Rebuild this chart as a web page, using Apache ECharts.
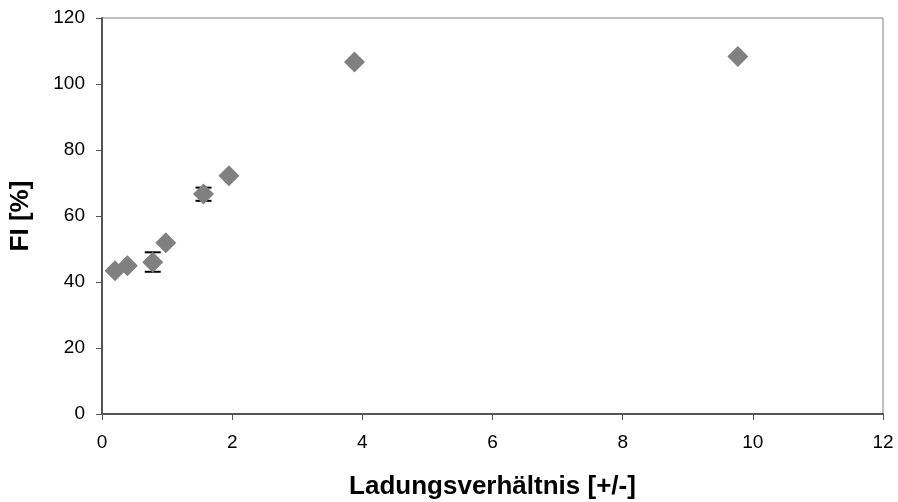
<!DOCTYPE html>
<html>
<head>
<meta charset="utf-8">
<script src="https://cdn.jsdelivr.net/npm/echarts@6/dist/echarts.min.js"></script>
<style>
  html, body { margin: 0; padding: 0; background: #fff; }
  #chart { width: 898px; height: 502px; }
</style>
</head>
<body>
<div id="chart"></div>
<script>
// Ladungsverhältnis vs FI
var ratio = [0.2, 0.39, 0.78, 0.98, 1.56, 1.95, 3.88, 9.77];
var fi = [43.4, 44.9, 46.0, 51.9, 66.7, 72.2, 106.7, 108.3];
// error bars (low, high) where visible
var errX = [0.78, 1.56];
var errLow = [43.1, 64.6];
var errHigh = [49.0, 68.6];

var xTicks = [0, 2, 4, 6, 8, 10, 12];
var yTicks = [0, 20, 40, 60, 80, 100, 120];

var points = ratio.map(function (x, i) { return [x, fi[i]]; });
var errData = errX.map(function (x, i) { return [x, errLow[i], errHigh[i]]; });

var myChart = echarts.init(document.getElementById('chart'));
myChart.setOption({
  animation: false,
  grid: {
    left: 102, right: 15, top: 18, bottom: 88,
    outerBoundsMode: 'none',
    containLabel: false,
    show: true, borderColor: '#808080', borderWidth: 1
  },
  xAxis: {
    type: 'value',
    min: xTicks[0], max: xTicks[xTicks.length - 1], interval: 2,
    name: 'Ladungsverhältnis [+/-]',
    nameLocation: 'middle',
    nameGap: 60,
    nameTextStyle: { fontFamily: 'Liberation Sans', fontWeight: 'bold', fontSize: 26, color: '#000' },
    axisLine: { lineStyle: { color: '#555', width: 2 } },
    axisTick: { show: true, length: 6, lineStyle: { color: '#555', width: 1 } },
    axisLabel: { margin: 19, fontFamily: 'Liberation Sans', fontSize: 19, color: '#000' },
    splitLine: { show: false }
  },
  yAxis: {
    type: 'value',
    min: yTicks[0], max: yTicks[yTicks.length - 1], interval: 20,
    name: 'FI [%]',
    nameLocation: 'middle',
    nameGap: 68,
    nameTextStyle: { fontFamily: 'Liberation Sans', fontWeight: 'bold', fontSize: 26, color: '#000' },
    axisLine: { show: true, lineStyle: { color: '#555', width: 2 } },
    axisTick: { show: true, length: 6, lineStyle: { color: '#555', width: 1 } },
    axisLabel: { margin: 17, fontFamily: 'Liberation Sans', fontSize: 19, color: '#000' },
    splitLine: { show: false }
  },
  series: [
    {
      type: 'custom',
      data: errData,
      z: 1,
      renderItem: function (params, api) {
        var top = api.coord([api.value(0), api.value(2)]);
        var bot = api.coord([api.value(0), api.value(1)]);
        var hw = 8;
        var style = { stroke: '#000', lineWidth: 2 };
        return {
          type: 'group',
          children: [
            { type: 'line', shape: { x1: top[0], y1: top[1], x2: bot[0], y2: bot[1] }, style: style },
            { type: 'line', shape: { x1: top[0] - hw, y1: top[1], x2: top[0] + hw, y2: top[1] }, style: style },
            { type: 'line', shape: { x1: bot[0] - hw, y1: bot[1], x2: bot[0] + hw, y2: bot[1] }, style: style }
          ]
        };
      }
    },
    {
      type: 'scatter',
      data: points,
      z: 2,
      symbol: 'diamond',
      symbolSize: 21,
      itemStyle: { color: '#808080', opacity: 1 }
    }
  ]
});
</script>
</body>
</html>
